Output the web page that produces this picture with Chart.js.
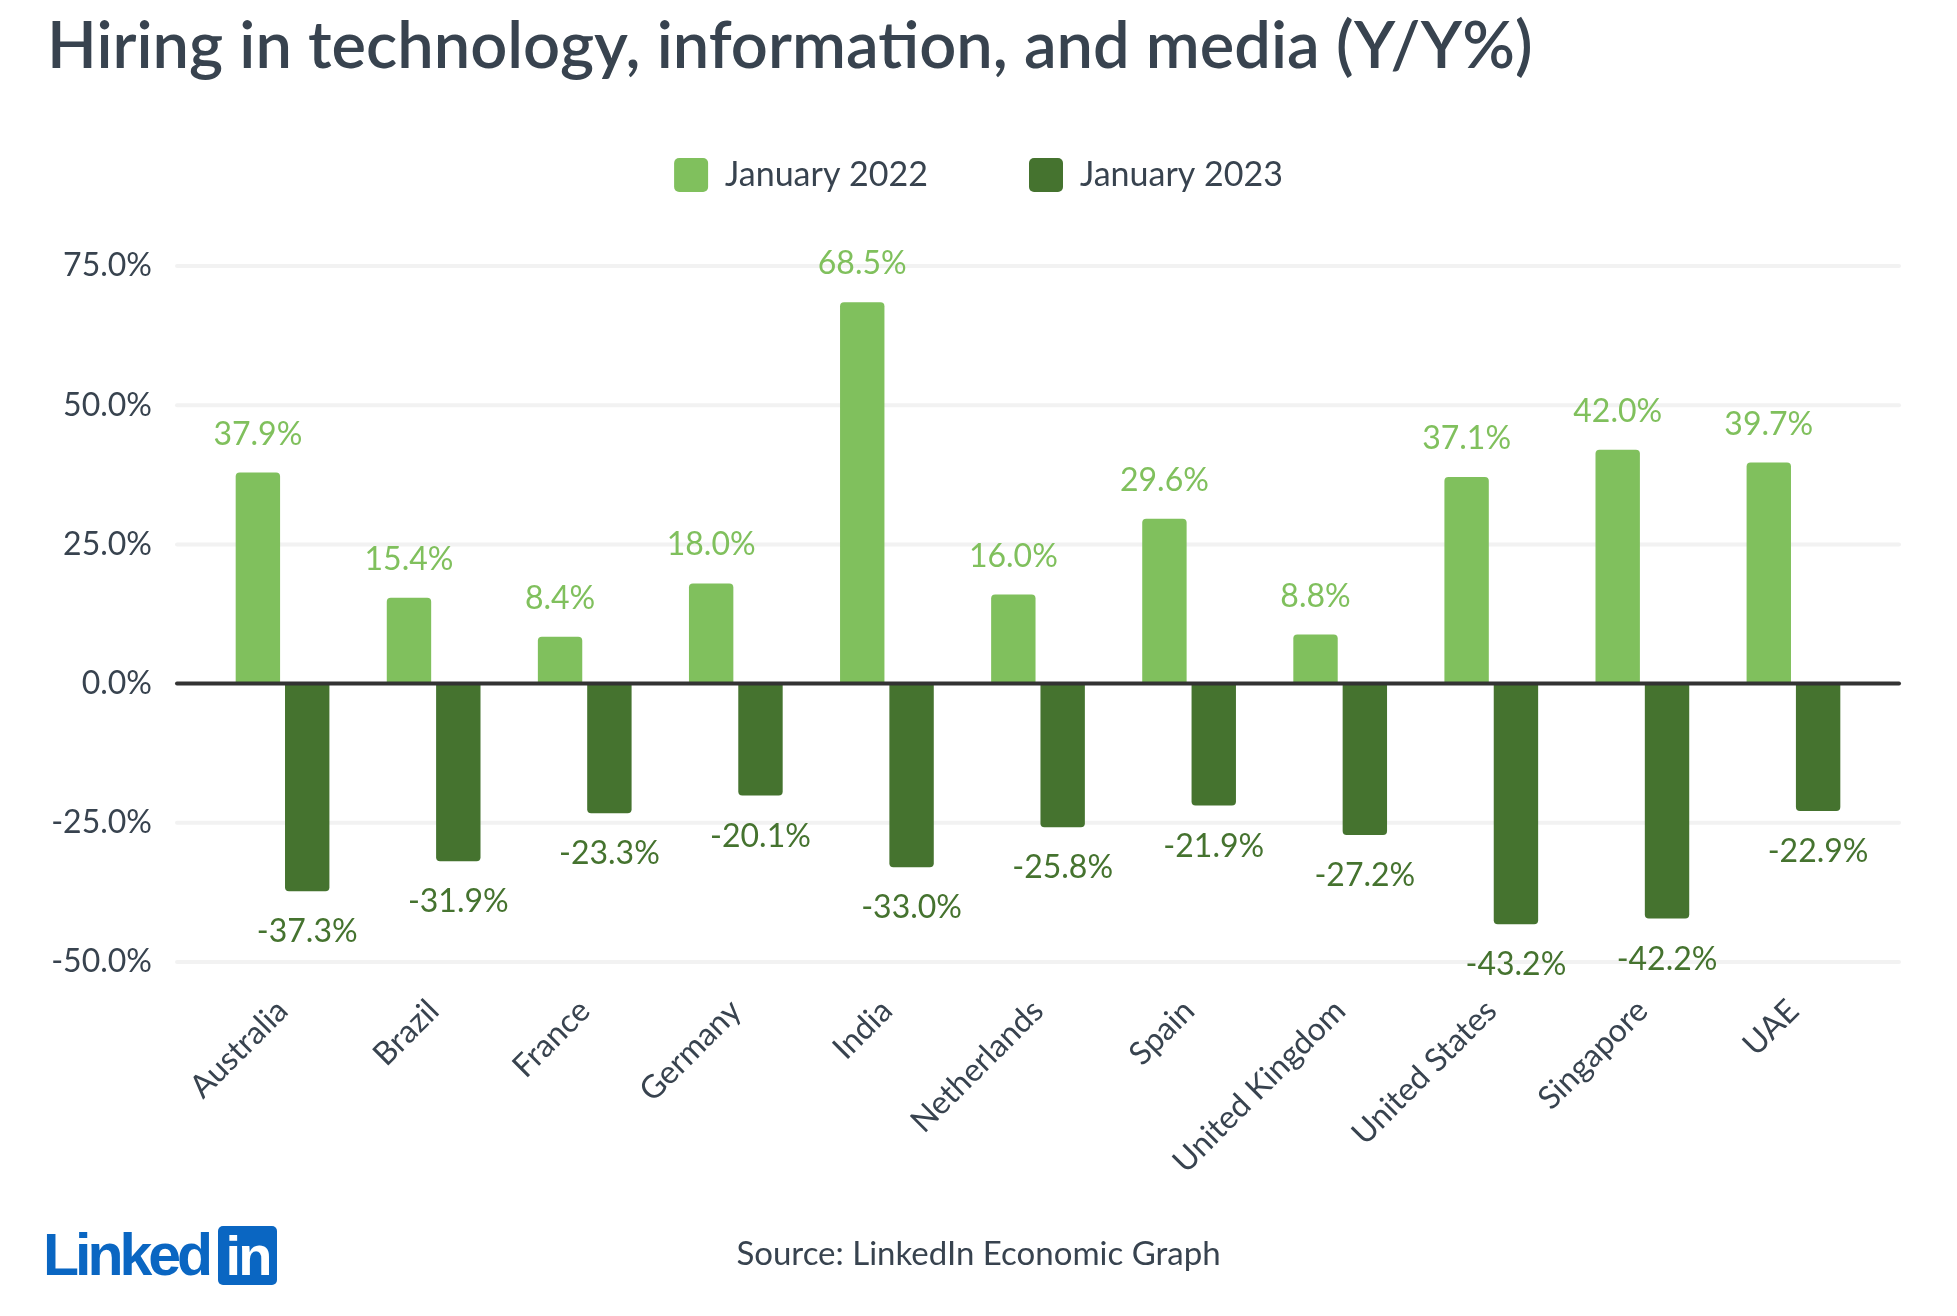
<!DOCTYPE html>
<html>
<head>
<meta charset="utf-8">
<script src="https://cdn.jsdelivr.net/npm/chart.js@4.4.0/dist/chart.umd.min.js"></script>
<style>
    html, body { margin: 0; padding: 0; background: #fff; overflow: hidden; }
    #page { position: relative; width: 1957px; height: 1316px; }
    #chartBox { position: absolute; left: 0; top: 0; width: 1957px; height: 1316px; }
    #title {
        position: absolute; left: 47px; top: 11px;
        font-family: 'Lato', sans-serif; font-weight: 600;
        font-size: 65px; line-height: 65px; color: #38434f; white-space: nowrap;
    }
    #source {
        position: absolute; left: 0; width: 1957px; top: 1236px; text-align: center;
        font-family: 'Lato', sans-serif; font-size: 33px; line-height: 33px; color: #38434f;
    }
    #logoText {
        position: absolute; left: 43px; top: 1226px;
        font-family: 'Liberation Sans', Arial, sans-serif; font-weight: bold;
        font-size: 59px; line-height: 59px; letter-spacing: -4px; color: #0a66c2;
    }
    #logoBox {
        position: absolute; left: 218px; top: 1226px; width: 59px; height: 59px;
        background: #0a66c2; border-radius: 5px; color: #fff; text-align: center;
        font-family: 'Liberation Sans', Arial, sans-serif; font-weight: bold;
        font-size: 56px; line-height: 59px; letter-spacing: -3px;
    }
</style>
</head>
<body>
<div id="page">
    <div id="chartBox"><canvas id="myChart"></canvas></div>
    <div id="title">Hiring in technology, information, and media (Y/Y%)</div>
    <div id="source">Source: LinkedIn Economic Graph</div>
    <div id="logoText">Linked</div>
    <div id="logoBox">in</div>
</div>
<script>
// data
var countries = ["Australia", "Brazil", "France", "Germany", "India", "Netherlands",
    "Spain", "United Kingdom", "United States", "Singapore", "UAE"];
var jan2022 = [37.9, 15.4, 8.4, 18.0, 68.5, 16.0, 29.6, 8.8, 37.1, 42.0, 39.7];
var jan2023 = [-37.3, -31.9, -23.3, -20.1, -33.0, -25.8, -21.9, -27.2, -43.2, -42.2, -22.9];
var yTicks = [-50, -25, 0, 25, 50, 75];

var lightGreen = "#80c05d";
var darkGreen = "#45732f";
var textColor = "#38434f";

Chart.defaults.font.family = "Lato";
Chart.defaults.color = textColor;

// push the plot down below the legend, and centre the legend on the page
var legendSpacer = {
    id: 'legendSpacer',
    beforeInit: function (chart) {
        var fit = chart.legend.fit;
        chart.legend.fit = function () {
            fit.call(this);
            this.height += 64;
        };
    },
    afterLayout: function (chart) {
        chart.legend.left = 0;
        chart.legend.right = chart.width;
    }
};

// grid lines run a bit wider than the bars area, zero line on top of the bars
var gridLines = {
    id: 'gridLines',
    beforeDatasetsDraw: function (chart) {
        var ctx = chart.ctx, y = chart.scales.y, a = chart.chartArea;
        ctx.save();
        ctx.strokeStyle = "#f2f2f2";
        ctx.lineWidth = 4;
        ctx.lineCap = 'round';
        y.ticks.forEach(function (t) {
            if (t.value === 0) return;
            var py = y.getPixelForValue(t.value);
            ctx.beginPath();
            ctx.moveTo(a.left - 30, py);
            ctx.lineTo(a.right + 30, py);
            ctx.stroke();
        });
        ctx.restore();
    },
    afterDatasetsDraw: function (chart) {
        var ctx = chart.ctx, y = chart.scales.y, a = chart.chartArea;
        var py = y.getPixelForValue(0);
        ctx.save();
        ctx.strokeStyle = "#333333";
        ctx.lineWidth = 4;
        ctx.lineCap = 'round';
        ctx.beginPath();
        ctx.moveTo(a.left - 30, py);
        ctx.lineTo(a.right + 30, py);
        ctx.stroke();
        ctx.restore();
    }
};

// value labels above / below each bar
var barLabels = {
    id: 'barLabels',
    afterDatasetsDraw: function (chart) {
        var ctx = chart.ctx;
        ctx.save();
        ctx.font = "32px Lato";
        ctx.textAlign = 'center';
        ctx.textBaseline = 'alphabetic';
        chart.data.datasets.forEach(function (ds, i) {
            var meta = chart.getDatasetMeta(i);
            ctx.fillStyle = ds.backgroundColor;
            meta.data.forEach(function (bar, j) {
                var v = ds.data[j];
                var txt = v.toFixed(1) + "%";
                if (v >= 0) {
                    ctx.fillText(txt, bar.x, bar.y - 28);
                } else {
                    ctx.fillText(txt, bar.x, bar.y + 51);
                }
            });
        });
        ctx.restore();
    }
};

var ctx = document.getElementById("myChart");
var myChart = new Chart(ctx, {
    type: 'bar',
    data: {
        labels: countries,
        datasets: [{
                label: "January 2022",
                data: jan2022,
                backgroundColor: lightGreen,
                borderRadius: 4,
                categoryPercentage: 0.653,
                barPercentage: 0.9
            }, {
                label: "January 2023",
                data: jan2023,
                backgroundColor: darkGreen,
                borderRadius: 4,
                categoryPercentage: 0.653,
                barPercentage: 0.9
            }]
    },
    options: {
        responsive: true,
        maintainAspectRatio: false,
        animation: false,
        devicePixelRatio: 1,
        layout: {
            padding: {top: 57, left: 0, right: 88, bottom: 0}
        },
        plugins: {
            tooltip: {enabled: false},
            legend: {
                position: 'top',
                labels: {
                    boxWidth: 34,
                    boxHeight: 34,
                    useBorderRadius: true,
                    borderRadius: 5,
                    padding: 101,
                    color: textColor,
                    font: {size: 34}
                }
            }
        },
        scales: {
            x: {
                grid: {display: false},
                border: {display: false},
                ticks: {
                    minRotation: 45,
                    maxRotation: 45,
                    autoSkip: false,
                    padding: 22,
                    color: textColor,
                    font: {size: 32}
                },
                afterFit: function (scale) {
                    scale.height = 354;
                }
            },
            y: {
                min: -50,
                max: 75,
                grid: {display: false, drawTicks: false},
                border: {display: false},
                afterBuildTicks: function (scale) {
                    scale.ticks = yTicks.map(function (v) {
                        return {value: v};
                    });
                },
                ticks: {
                    padding: 55,
                    color: textColor,
                    font: {size: 32},
                    callback: function (v) {
                        return Number(v).toFixed(1) + "%";
                    }
                },
                afterFit: function (scale) {
                    scale.width = 207;
                }
            }
        }
    },
    plugins: [legendSpacer, gridLines, barLabels]
});
</script>
</body>
</html>
